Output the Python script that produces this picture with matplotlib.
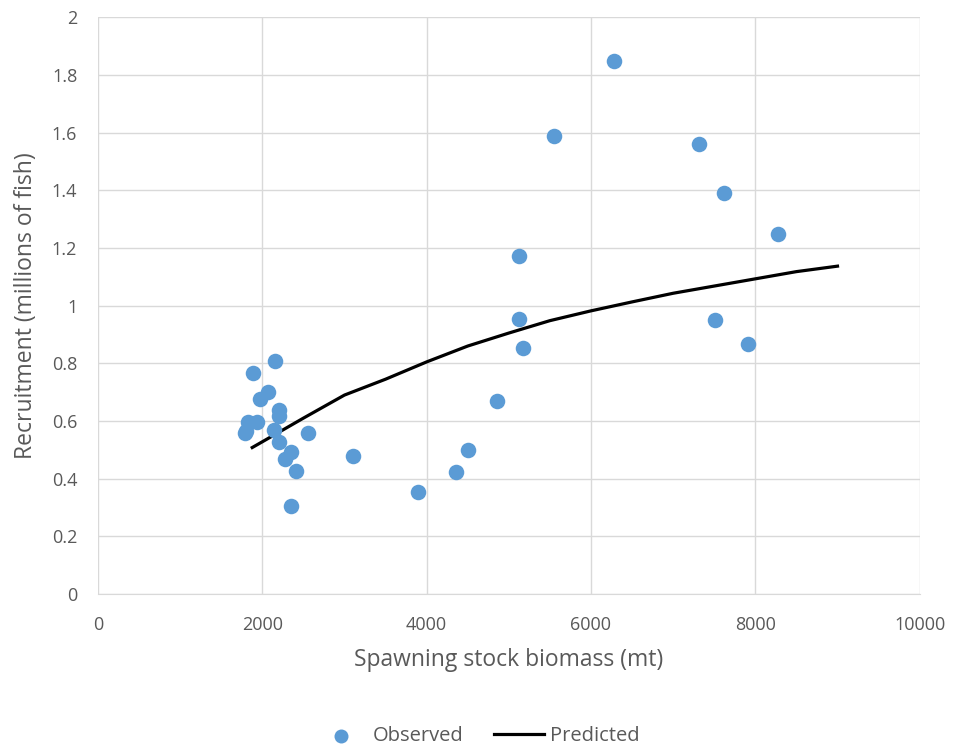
import matplotlib.pyplot as plt
import matplotlib as mpl

mpl.rcParams['font.family'] = ['Open Sans', 'DejaVu Sans']

# observed stock-recruitment points (biomass in mt, recruits in millions)
ssb_obs = [6280, 5550, 7320, 7620, 8270, 5120, 5120, 7510, 5170, 7910,
           4855, 4500, 4355, 3895, 3100, 2555, 2150, 1890, 2065, 1970,
           2205, 2205, 1830, 1930, 1790, 1800, 2145, 2205, 2355, 2275,
           2415, 2355]
rec_obs = [1.85, 1.59, 1.56, 1.39, 1.248, 1.172, 0.953, 0.95, 0.853, 0.867,
           0.669, 0.499, 0.423, 0.354, 0.478, 0.56, 0.808, 0.765, 0.701, 0.675,
           0.638, 0.617, 0.597, 0.597, 0.559, 0.567, 0.568, 0.528, 0.493, 0.470,
           0.426, 0.306]

# predicted curve
ssb_pred = [1877, 2000, 2500, 3000, 3500, 4000, 4500, 5000, 5500, 6000,
            6500, 7000, 7500, 8000, 8500, 9000]
rec_pred = [0.508, 0.528, 0.61, 0.69, 0.745, 0.805, 0.86, 0.905, 0.948, 0.982,
            1.013, 1.043, 1.068, 1.093, 1.118, 1.137]

grey = '#595959'

fig = plt.figure(figsize=(9.56, 7.51), dpi=100)
ax = fig.add_axes([0.1025, 0.209, 0.8595, 0.768])

ax.scatter(ssb_obs, rec_obs, s=125, color='#5b9bd5', zorder=3, label='Observed', linewidths=0)
ax.plot(ssb_pred, rec_pred, color='black', lw=2.3, zorder=2, label='Predicted')

ax.set_xlim(0, 10000)
ax.set_ylim(0, 2)
ax.set_xticks(range(0, 10001, 2000))
ax.set_yticks([i / 5 for i in range(11)])
ax.set_yticklabels(['0', '0.2', '0.4', '0.6', '0.8', '1', '1.2', '1.4', '1.6', '1.8', '2'])

ax.grid(True, color='#d9d9d9', lw=1)
ax.set_axisbelow(True)
for s in ['top', 'right', 'left']:
    ax.spines[s].set_visible(False)
ax.spines['bottom'].set_color('#d9d9d9')
ax.tick_params(length=0, colors=grey, labelsize=13)
ax.tick_params(axis='x', pad=16)
ax.tick_params(axis='y', pad=15)

ax.set_xlabel('Spawning stock biomass (mt)', fontsize=16.5, color=grey, labelpad=10)
ax.set_ylabel('Recruitment (millions of fish)', fontsize=16.5, color=grey, labelpad=10)

leg = fig.legend(loc='center', ncol=2, frameon=False, bbox_to_anchor=(0.5, 0.02),
                 fontsize=14.5, handlelength=2.5, handletextpad=0.3, columnspacing=1.5,
                 markerscale=0.9)
for t in leg.get_texts():
    t.set_color(grey)

plt.savefig('out.png', dpi=100)
plt.close()
